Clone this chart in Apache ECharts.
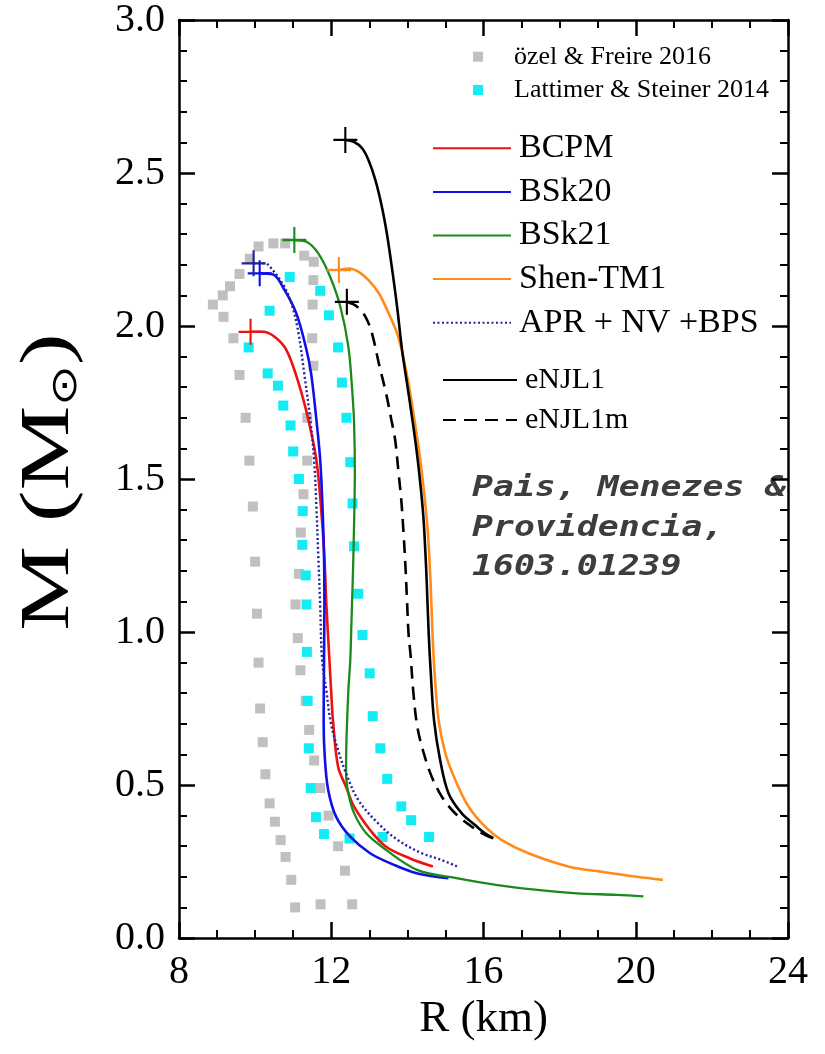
<!DOCTYPE html>
<html>
<head>
<meta charset="utf-8">
<script src="https://cdn.jsdelivr.net/npm/echarts@6/dist/echarts.min.js"></script>
<style>
  html, body { margin: 0; padding: 0; background: #fff; }
  #chart { width: 825px; height: 1054px; }
</style>
</head>
<body>
<div id="chart"></div>
<script>
// Mass–radius observational constraints (square markers), [R km, M Msun]
const ozelFreire = [
  [8.89,2.07],[9.15,2.10],[9.34,2.13],[9.59,2.17],[9.86,2.22],[10.09,2.26],[10.48,2.27],[10.79,2.27],
  [11.29,2.23],[11.54,2.21],[11.53,2.15],[11.51,2.07],[11.50,1.96],[9.17,2.03],[9.43,1.96],
  [9.59,1.84],[9.75,1.70],[9.85,1.56],[9.94,1.41],[10.00,1.23],[10.05,1.06],[10.09,0.90],[10.13,0.75],
  [10.20,0.64],[10.27,0.535],[10.38,0.44],[10.52,0.38],[10.67,0.32],[10.80,0.265],[10.95,0.19],[11.05,0.10],
  [11.53,1.87],[11.37,1.70],[11.37,1.56],[11.27,1.45],[11.20,1.325],[11.15,1.19],[11.06,1.09],[11.12,0.98],
  [11.19,0.875],[11.33,0.775],[11.42,0.68],[11.55,0.58],[11.71,0.49],[11.93,0.40],[12.18,0.30],[12.36,0.22],
  [12.55,0.11],[11.72,0.11]
];
const lattimerSteiner = [
  [10.91,2.16],[11.71,2.115],[10.38,2.05],[11.94,2.035],[9.83,1.93],[12.18,1.93],[10.33,1.845],[10.60,1.805],
  [12.28,1.815],[10.74,1.74],[12.40,1.70],[10.93,1.675],[11.00,1.59],[12.50,1.555],[11.15,1.50],[11.25,1.395],
  [12.56,1.42],[11.24,1.285],[12.60,1.28],[11.33,1.185],[12.71,1.125],[11.35,1.09],[12.82,0.99],[11.36,0.935],
  [13.01,0.865],[11.38,0.775],[13.09,0.725],[11.41,0.62],[13.29,0.62],[13.47,0.52],[11.46,0.49],[13.84,0.43],
  [11.60,0.395],[14.10,0.385],[11.81,0.34],[12.48,0.325],[13.35,0.33],[14.57,0.33]
];

// Equation-of-state M(R) sequences, starting at the maximum-mass star
const bcpm = [
  [9.88,1.981],[10.20,1.981],[10.51,1.965],[10.82,1.922],[11.14,1.814],[11.40,1.693],[11.61,1.562],[11.73,1.409],
  [11.82,1.246],[11.87,1.094],[11.95,0.914],[12.00,0.800],[12.05,0.703],[12.18,0.560],[12.39,0.494],[12.60,0.429],
  [13.02,0.353],[13.44,0.298],[14.07,0.260],[14.67,0.234]
];
const bsk20 = [
  [10.12,2.172],[10.46,2.169],[10.77,2.118],[11.08,2.042],[11.33,1.932],[11.47,1.845],[11.61,1.693],[11.71,1.562],
  [11.77,1.409],[11.81,1.246],[11.82,1.083],[11.81,0.908],[11.80,0.702],[11.83,0.592],[11.92,0.484],[12.13,0.396],
  [12.50,0.331],[13.02,0.277],[13.65,0.239],[14.27,0.211],[15.08,0.195]
];
const bsk21 = [
  [11.03,2.281],[11.35,2.275],[11.66,2.237],[11.97,2.161],[12.24,2.063],[12.45,1.932],[12.55,1.791],[12.60,1.682],
  [12.62,1.518],[12.60,1.355],[12.57,1.192],[12.53,1.028],[12.50,0.908],[12.45,0.810],[12.40,0.647],[12.39,0.538],
  [12.45,0.473],[12.60,0.408],[12.92,0.342],[13.44,0.288],[14.27,0.222],[15.32,0.195],[16.37,0.173],[17.41,0.157],
  [18.46,0.146],[19.50,0.141],[20.20,0.136]
];
const shenTM1 = [
  [12.20,2.183],[12.46,2.188],[12.72,2.177],[12.98,2.150],[13.25,2.107],[13.51,2.041],[13.73,1.976],[13.85,1.922],
  [14.03,1.813],[14.20,1.682],[14.34,1.562],[14.46,1.431],[14.54,1.322],[14.61,1.159],[14.66,0.995],[14.71,0.876],
  [14.82,0.712],[15.00,0.603],[15.26,0.516],[15.61,0.429],[16.04,0.364],[16.48,0.320],[17.18,0.277],[18.25,0.233],
  [19.08,0.217],[20.03,0.200],[20.71,0.190]
];
const aprNvBps = [
  [9.96,2.205],[10.25,2.205],[10.46,2.183],[10.77,2.128],[10.98,2.063],[11.14,1.976],[11.29,1.845],[11.45,1.693],
  [11.55,1.562],[11.61,1.409],[11.66,1.246],[11.71,1.083],[11.76,0.908],[11.87,0.810],[11.99,0.702],[12.18,0.614],
  [12.39,0.538],[12.71,0.451],[13.23,0.375],[13.75,0.320],[14.38,0.277],[14.90,0.255],[15.32,0.233]
];
const eNJL1 = [
  [12.37,2.608],[12.59,2.602],[12.81,2.581],[12.98,2.542],[13.16,2.477],[13.33,2.390],[13.46,2.303],[13.59,2.194],
  [13.73,2.063],[13.86,1.922],[13.99,1.813],[14.12,1.704],[14.24,1.595],[14.34,1.486],[14.42,1.377],[14.47,1.268],
  [14.51,1.159],[14.56,0.995],[14.61,0.876],[14.70,0.712],[14.86,0.582],[15.08,0.473],[15.43,0.407],[15.78,0.369],
  [16.04,0.342],[16.26,0.326]
];
const eNJL1m = [
  [12.41,2.079],[12.68,2.063],[12.90,2.030],[13.07,1.976],[13.25,1.878],[13.44,1.780],[13.58,1.693],[13.68,1.627],
  [13.77,1.518],[13.84,1.431],[13.90,1.322],[13.95,1.213],[13.99,1.105],[14.03,0.995],[14.08,0.930],[14.16,0.799],
  [14.26,0.691],[14.43,0.604],[14.64,0.527],[14.91,0.461],[15.26,0.407],[15.69,0.364],[16.04,0.337],[16.26,0.326]
];

const xRange = [8, 24];
const yRange = [0, 3];
const serif = 'Liberation Serif';
const plusPath = 'path://M0,-12L0,12M-12,0L12,0';

function curve(name, data, color, width, type) {
  return {
    name, type: 'line', data, symbol: 'none', smooth: 0.35,
    lineStyle: { color, width, type: type || 'solid' },
    itemStyle: { color },
    z: 3,
    markPoint: {
      symbol: plusPath, symbolSize: [24, 26], silent: true,
      label: { show: false },
      itemStyle: { color: 'rgba(0,0,0,0)', borderColor: color, borderWidth: 2.2 },
      data: [{ coord: data[0] }]
    }
  };
}

function axisCommon(extra) {
  return Object.assign({
    type: 'value',
    splitLine: { show: false },
    axisLine: { onZero: false, lineStyle: { color: '#000', width: 2.5 } },
    axisTick: { inside: true, length: 16, lineStyle: { color: '#000', width: 2.5 } },
    axisLabel: { color: '#000', fontFamily: serif, fontSize: 40, margin: 14 }
  }, extra);
}

const lineLegend = {
  orient: 'vertical', padding: 0, selectedMode: false,
  itemStyle: { opacity: 0 }
};

const chart = echarts.init(document.getElementById('chart'), null, { renderer: 'canvas' });
chart.setOption({
  animation: false,
  backgroundColor: '#fff',
  grid: { left: 179, right: 37, top: 18.5, bottom: 116, containLabel: false },
  xAxis: [
    axisCommon({
      min: xRange[0], max: xRange[1], interval: 4, position: 'bottom',
      minorTick: { show: true, splitNumber: 4, length: 8, lineStyle: { color: '#000', width: 2 } },
      name: 'R (km)', nameLocation: 'middle', nameGap: 57,
      nameTextStyle: { fontFamily: serif, fontSize: 45, color: '#000' }
    }),
    axisCommon({
      min: xRange[0], max: xRange[1], interval: 4, position: 'top',
      minorTick: { show: true, splitNumber: 4, length: 8, lineStyle: { color: '#000', width: 2 } },
      axisLabel: { show: false }
    })
  ],
  yAxis: [
    axisCommon({
      min: yRange[0], max: yRange[1], interval: 0.5, position: 'left',
      minorTick: { show: true, splitNumber: 5, length: 8, lineStyle: { color: '#000', width: 2 } },
      axisLabel: { color: '#000', fontFamily: serif, fontSize: 40, margin: 14, formatter: v => v.toFixed(1) }
    }),
    axisCommon({
      min: yRange[0], max: yRange[1], interval: 0.5, position: 'right',
      minorTick: { show: true, splitNumber: 5, length: 8, lineStyle: { color: '#000', width: 2 } },
      axisLabel: { show: false }
    })
  ],
  legend: [
    {
      data: ['özel & Freire 2016', 'Lattimer & Steiner 2014'],
      orient: 'vertical', left: 473, top: 43.7, icon: 'rect', padding: 0,
      itemWidth: 10, itemHeight: 10, itemGap: 7.3, selectedMode: false,
      textStyle: { fontFamily: serif, fontSize: 26, lineHeight: 26, color: '#000', padding: [0, 0, 0, 26] }
    },
    Object.assign({}, lineLegend, {
      data: ['BCPM', 'BSk20', 'BSk21', 'Shen-TM1', 'APR + NV +BPS'],
      left: 432, top: 131.3,
      itemWidth: 78, itemHeight: 14, itemGap: 9.6,
      textStyle: { fontFamily: serif, fontSize: 34, lineHeight: 34, color: '#000', padding: [0, 0, 0, 3] }
    }),
    Object.assign({}, lineLegend, {
      data: ['eNJL1', 'eNJL1m'],
      left: 442, top: 365,
      itemWidth: 74, itemHeight: 14, itemGap: 10,
      textStyle: { fontFamily: serif, fontSize: 30, lineHeight: 30, color: '#000', padding: [0, 0, 0, 3] }
    })
  ],
  graphic: [
    {
      // vertical axis title, stretched along its reading direction
      type: 'text', x: 50, y: 482, rotation: Math.PI / 2, scaleX: 1.36, silent: true,
      style: {
        text: 'M (M{sub|⊙})',
        fontFamily: serif, fontSize: 70, fill: '#000',
        align: 'center', verticalAlign: 'middle',
        rich: { sub: { fontFamily: 'DejaVu Sans', fontSize: 36, fill: '#000', verticalAlign: 'bottom' } }
      }
    },
    {
      type: 'text', x: 472, y: 469, scaleX: 1.2, silent: true,
      style: {
        text: 'Pais, Menezes &\nProvidencia,\n1603.01239',
        font: 'italic bold 29px "DejaVu Sans Mono"',
        fill: '#3d3d3d', lineHeight: 39.5
      }
    }
  ],
  series: [
    { name: 'özel & Freire 2016', type: 'scatter', data: ozelFreire, symbol: 'rect', symbolSize: 10,
      itemStyle: { color: '#c0c0c0', opacity: 1 }, z: 1 },
    { name: 'Lattimer & Steiner 2014', type: 'scatter', data: lattimerSteiner, symbol: 'rect', symbolSize: 10,
      itemStyle: { color: '#14ecf4', opacity: 1 }, z: 1 },
    curve('BCPM', bcpm, '#ee1111', 2.6),
    curve('BSk20', bsk20, '#1010e8', 2.6),
    curve('BSk21', bsk21, '#1a8a1a', 2.3),
    curve('Shen-TM1', shenTM1, '#ff8c1a', 2.6),
    curve('APR + NV +BPS', aprNvBps, '#22229c', 2.4, [2, 2.5]),
    curve('eNJL1', eNJL1, '#000000', 2.6),
    curve('eNJL1m', eNJL1m, '#000000', 2.6, [13, 8])
  ]
});
</script>
</body>
</html>
